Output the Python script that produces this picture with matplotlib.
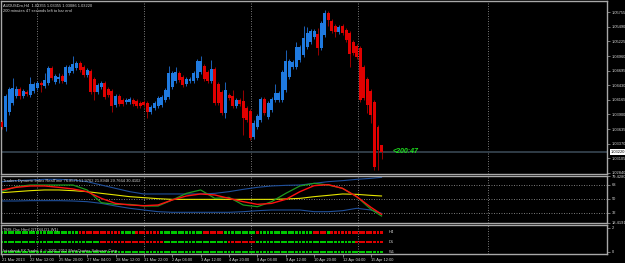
import numpy as np
import matplotlib
matplotlib.use('Agg')
import matplotlib.pyplot as plt
from matplotlib.transforms import blended_transform_factory

# AUDUSDm H4 bars, oldest first
opens = [1.0376, 1.0367, 1.0395, 1.0411, 1.0424, 1.0436, 1.0424, 1.0431, 1.0425, 1.0433,
         1.0438, 1.0447, 1.0442, 1.0447, 1.0474, 1.0449, 1.0454, 1.0460, 1.0449, 1.0465,
         1.0469, 1.0474, 1.0483, 1.0476, 1.0462, 1.0469, 1.0454, 1.0431, 1.0440, 1.0447,
         1.0436, 1.0433, 1.0407, 1.0424, 1.0416, 1.0413, 1.0413, 1.0416, 1.0414, 1.0411,
         1.0413, 1.0411, 1.0395, 1.0402, 1.0405, 1.0407, 1.0416, 1.0422, 1.0440, 1.0451,
         1.0465, 1.0458, 1.0445, 1.0451, 1.0451, 1.0456, 1.0467, 1.0478, 1.0467, 1.0451,
         1.0473, 1.0445, 1.0431, 1.0393, 1.0425, 1.0424, 1.0405, 1.0416, 1.0414, 1.0402,
         1.0396, 1.0349, 1.0367, 1.0380, 1.0418, 1.0385, 1.0398, 1.0416, 1.0416, 1.0416,
         1.0434, 1.0458, 1.0476, 1.0476, 1.0489, 1.0498, 1.0513, 1.0522, 1.0531, 1.0536,
         1.0511, 1.0534, 1.0574, 1.0560, 1.0551, 1.0540, 1.0551, 1.0543, 1.0538, 1.0522,
         1.0514, 1.0511, 1.0476, 1.0454, 1.0433, 1.0413, 1.0367, 1.03355]
highs = [1.0380, 1.0427, 1.0440, 1.0456, 1.0442, 1.0440, 1.0436, 1.0434, 1.0458, 1.0449,
         1.0451, 1.0451, 1.0465, 1.0478, 1.0478, 1.0463, 1.0465, 1.0463, 1.0480, 1.0480,
         1.0496, 1.0487, 1.0487, 1.0480, 1.0474, 1.0473, 1.0458, 1.0447, 1.0451, 1.0451,
         1.0440, 1.0436, 1.0427, 1.0427, 1.0420, 1.0420, 1.0422, 1.0420, 1.0418, 1.0414,
         1.0416, 1.0414, 1.0407, 1.0414, 1.0424, 1.0425, 1.0438, 1.0478, 1.0469, 1.0476,
         1.0469, 1.0462, 1.0458, 1.0458, 1.0469, 1.0491, 1.0496, 1.0482, 1.0471, 1.0489,
         1.0476, 1.0449, 1.0434, 1.0449, 1.0429, 1.0434, 1.0420, 1.0420, 1.0434, 1.0405,
         1.0400, 1.0380, 1.0391, 1.0422, 1.0422, 1.0414, 1.0422, 1.0445, 1.0433, 1.0471,
         1.0507, 1.0491, 1.0489, 1.0522, 1.0516, 1.0551, 1.0549, 1.0545, 1.0545, 1.0547,
         1.0560, 1.0580, 1.0578, 1.0563, 1.0554, 1.0552, 1.0554, 1.0547, 1.0541, 1.0525,
         1.0518, 1.0514, 1.0480, 1.0458, 1.0436, 1.0416, 1.0371, 1.03355]
lows = [1.0364, 1.0360, 1.0389, 1.0407, 1.0420, 1.0418, 1.0420, 1.0424, 1.0422, 1.0429,
        1.0434, 1.0431, 1.0438, 1.0444, 1.0453, 1.0445, 1.0447, 1.0447, 1.0445, 1.0462,
        1.0465, 1.0471, 1.0467, 1.0458, 1.0458, 1.0427, 1.0416, 1.0427, 1.0436, 1.0418,
        1.0422, 1.0395, 1.0404, 1.0405, 1.0405, 1.0409, 1.0409, 1.0405, 1.0402, 1.0402,
        1.0404, 1.0384, 1.0391, 1.0398, 1.0402, 1.0404, 1.0413, 1.0418, 1.0436, 1.0447,
        1.0449, 1.0440, 1.0442, 1.0447, 1.0447, 1.0453, 1.0463, 1.0451, 1.0447, 1.0447,
        1.0407, 1.0407, 1.0389, 1.0384, 1.0416, 1.0402, 1.0402, 1.0405, 1.0353, 1.0376,
        1.0344, 1.0346, 1.0364, 1.0376, 1.0389, 1.0382, 1.0395, 1.0413, 1.0413, 1.0413,
        1.0431, 1.0454, 1.0473, 1.0473, 1.0485, 1.0494, 1.0509, 1.0518, 1.0527, 1.0498,
        1.0507, 1.0531, 1.0551, 1.0538, 1.0531, 1.0536, 1.0534, 1.0522, 1.0476, 1.0498,
        1.0491, 1.0413, 1.0416, 1.0393, 1.0374, 1.0289, 1.0289, 1.03086]
closes = [1.0367, 1.0424, 1.0436, 1.0438, 1.0436, 1.0424, 1.0433, 1.0427, 1.0445, 1.0445,
          1.0447, 1.0444, 1.0453, 1.0474, 1.0456, 1.0460, 1.0458, 1.0451, 1.0476, 1.0476,
          1.0482, 1.0483, 1.0471, 1.0462, 1.0471, 1.0431, 1.0431, 1.0444, 1.0447, 1.0422,
          1.0425, 1.0405, 1.0424, 1.0409, 1.0409, 1.0416, 1.0418, 1.0409, 1.0405, 1.0405,
          1.0407, 1.0395, 1.0404, 1.0411, 1.0420, 1.0422, 1.0434, 1.0465, 1.0465, 1.0467,
          1.0453, 1.0444, 1.0454, 1.0454, 1.0465, 1.0487, 1.0487, 1.0454, 1.0451, 1.0473,
          1.0411, 1.0411, 1.0393, 1.0434, 1.0420, 1.0405, 1.0416, 1.0409, 1.0384, 1.0380,
          1.0347, 1.0374, 1.0387, 1.0418, 1.0393, 1.0411, 1.0418, 1.0429, 1.0429, 1.0467,
          1.0487, 1.0487, 1.0485, 1.0513, 1.0513, 1.0529, 1.0538, 1.0541, 1.0541, 1.0511,
          1.0556, 1.0574, 1.0561, 1.0541, 1.0540, 1.0549, 1.0538, 1.0525, 1.0500, 1.0502,
          1.0494, 1.0416, 1.0420, 1.0407, 1.0389, 1.0295, 1.0326, 1.03220]

# Traders Dynamic Index, read every 4th bar (plus the last one)
tdi_bars = [0, 4, 8, 12, 16, 20, 24, 28, 32, 36, 40, 44, 48, 52,
            56, 60, 64, 68, 72, 76, 80, 84, 88, 92, 96, 100, 104, 107]
tdi_rsi = [59.1, 65.6, 67.7, 67.7, 67.7, 67.7, 61.3, 44.8, 42.6, 42.6, 40.5, 40.5, 48.3, 56.9,
           61.3, 50.4, 51.7, 41.8, 39.6, 46.1, 56.9, 66.5, 69.9, 67.7, 63.4, 52.6, 36.2, 27.5]
tdi_signal = [61.3, 64.7, 66.5, 66.5, 64.7, 62.6, 59.1, 50.4, 43.9, 41.8, 40.9, 41.8, 48.3, 53.5,
              56.1, 54.8, 50.4, 46.1, 42.6, 43.9, 49.1, 59.1, 66.9, 68.2, 63.4, 52.6, 38.8, 29.7]
tdi_base = [57.8, 59.1, 60.4, 61.3, 61.3, 60.4, 59.1, 56.9, 54.8, 52.6, 51.3, 50.0, 49.1, 49.1,
            49.1, 49.1, 49.1, 49.1, 49.1, 49.1, 49.6, 50.4, 52.6, 54.3, 56.1, 55.6, 54.3, 53.5]
tdi_upper = [72.1, 73.4, 74.2, 75.1, 75.1, 74.2, 72.1, 67.7, 63.4, 59.1, 56.1, 56.1, 56.1, 56.1,
             56.1, 56.9, 59.1, 62.1, 64.7, 66.5, 67.3, 67.7, 69.9, 72.1, 73.4, 75.1, 76.4, 77.7]
tdi_lower = [47.0, 47.0, 47.4, 47.4, 47.4, 47.0, 46.1, 43.9, 40.5, 37.5, 35.3, 33.1, 32.3, 32.3,
             32.3, 32.3, 32.3, 33.1, 34.4, 35.3, 35.3, 35.3, 33.1, 33.1, 34.4, 37.5, 35.3, 31.0]
tdi_levels = [68, 50, 32]
tdi_min, tdi_max = 18.4191, 79.4280

# TMS oscillator state per bar (G = up, R = down)
tms_rows = ['H4', 'D1', 'W1']
tms_h4 = ('GGGGGGGGGGGGGGGGGGGGGG' 'RRRRRRRRRRRR' 'GGGG' 'RRRRRRR' 'GGGGGGGGGGGG' 'RRRRRR'
          'GGGGGGGGG' 'R' 'GGGGGGGGGGGGGGG' 'RRRR' 'G' 'RRRRRRRRRRRRRRR')
tms_d1 = ('GGGGGGGGGGGGGGGGGGGGGGGGGGGG' 'RRRRRRRRRRRRRRRRRR' 'GGGGGGGGGGGGGGGGGG'
          'RRRRRRRR' 'GGGGGGGGGGGGGGGGGGGGGGGGGGGG' 'RRRRRRRR')
tms_w1 = 'G' * 108

price_ticks = [1.05755, 1.05490, 1.05225, 1.04960, 1.04695, 1.04430, 1.04165,
               1.03900, 1.03635, 1.03370, 1.03105, 1.02840]
time_labels = ['21 Mar 2013', '22 Mar 12:00', '25 Mar 20:00', '27 Mar 04:00', '28 Mar 12:00',
               '31 Mar 22:00', '2 Apr 04:00', '3 Apr 12:00', '4 Apr 20:00', '8 Apr 04:00',
               '9 Apr 12:00', '10 Apr 20:00', '12 Apr 04:00', '15 Apr 12:00']
label_every = 8
grid_bars = [9.9, 40.0, 70.2, 100.4, 136.9]

# ---------------------------------------------------------------------------
W, H = 625, 263
BG = '#000000'
TXT = '#d6d6d6'
GRID = '#8a8a8a'
FS = 2.9
plt.rcParams['font.family'] = ['Liberation Sans', 'DejaVu Sans']

fig = plt.figure(figsize=(W / 100, H / 100), dpi=100, facecolor=BG)


def rect(x0, y0, x1, y1):
    return [x0 / W, 1 - y1 / H, (x1 - x0) / W, (y1 - y0) / H]


ax = fig.add_axes(rect(1, 1, 607, 174))
ax_tdi = fig.add_axes(rect(1, 176, 607, 223), sharex=ax)
ax_tms = fig.add_axes(rect(1, 225, 607, 254), sharex=ax)

for a in (ax, ax_tdi, ax_tms):
    a.set_facecolor(BG)
    for s in a.spines.values():
        s.set_color('#a8a8a8')
        s.set_linewidth(1.0)
    a.yaxis.tick_right()
    a.tick_params(axis='y', direction='out', length=2, width=0.5, color='#a8a8a8',
                  pad=1.2, labelsize=FS, labelcolor=TXT)
    a.tick_params(axis='x', bottom=False, labelbottom=False)
    for g in grid_bars:
        a.axvline(g, color=GRID, lw=0.6, ls=(0, (1.2, 1.8)), zorder=0)

# --- price panel
o = np.array(opens)
h = np.array(highs)
l = np.array(lows)
c = np.array(closes)
bars = np.arange(len(c))
up = c >= o
dn = ~up
body = np.maximum(np.abs(c - o), 0.00007)
ax.vlines(bars[up], l[up], h[up], color='#1c62b8', lw=0.7, zorder=2)
ax.vlines(bars[dn], l[dn], h[dn], color='#9a0000', lw=0.7, zorder=2)
ax.bar(bars[up], body[up], bottom=o[up], width=0.84, color='#1f7ae0', lw=0, zorder=3)
ax.bar(bars[dn], body[dn], bottom=c[dn], width=0.84, color='#e00000', lw=0, zorder=3)
ax.axhline(c[-1], color='#33414c', lw=1.3, zorder=1)

ax.set_xlim(-0.28, 170.56)
ax.set_ylim(1.0282, 1.0596)
ax.set_yticks(price_ticks)
ax.set_yticklabels([f'{p:.5f}' for p in price_ticks])
right_tr = blended_transform_factory(ax.transAxes, ax.transData)
ax.text(1.006, c[-1], f'{c[-1]:.5f}', transform=right_tr, va='center', ha='left',
        fontsize=FS, color='black', clip_on=False, zorder=5,
        bbox=dict(boxstyle='square,pad=0.15', fc='white', ec='none'))
ax.text(110, c[-1], '<200:47', color='#1ee01e', fontsize=5, style='italic',
        fontweight='bold', va='center', ha='left')
ax.text(0.004, 0.985, 'AUDUSDm,H4  1.03355 1.03355 1.03086 1.03220',
        transform=ax.transAxes, color=TXT, fontsize=FS, va='top', ha='left')
ax.text(0.004, 0.955, '200 minutes 47 seconds left to bar end',
        transform=ax.transAxes, color=TXT, fontsize=FS, va='top', ha='left')

# --- TDI panel
ax_tdi.plot(tdi_bars, tdi_upper, color='#1f4f9a', lw=0.8)
ax_tdi.plot(tdi_bars, tdi_lower, color='#1f4f9a', lw=0.8)
ax_tdi.plot(tdi_bars, tdi_base, color='#e6e600', lw=0.8)
ax_tdi.plot(tdi_bars, tdi_rsi, color='#1e9a1e', lw=0.9)
ax_tdi.plot(tdi_bars, tdi_signal, color='#ff1010', lw=1.0)
for lv in tdi_levels:
    ax_tdi.axhline(lv, color=GRID, lw=0.6, ls=(0, (1.2, 1.8)), zorder=0)
ax_tdi.set_ylim(tdi_min, tdi_max)
ax_tdi.set_yticks([tdi_max] + tdi_levels + [tdi_min])
ax_tdi.set_yticklabels([f'{tdi_max:.4f}'] + [str(v) for v in tdi_levels] + [f'{tdi_min:.4f}'])
ax_tdi.text(0.004, 0.93, 'Traders Dynamic Index RealTime 76.8575 51.9762 21.8948 29.7664 30.4102',
            transform=ax_tdi.transAxes, color=TXT, fontsize=FS, va='top', ha='left')

# --- TMS oscillator panel
row_y = {'H4': 1.65, 'D1': 0.83, 'W1': 0.0}
palette = {'G': '#00c800', 'R': '#e00000'}
for name, states in zip(tms_rows, [tms_h4, tms_d1, tms_w1]):
    cols = [palette[s] for s in states]
    ax_tms.scatter(np.arange(len(states)), [row_y[name]] * len(states), c=cols,
                   marker='s', s=4.2, lw=0, zorder=2)
    ax_tms.text(109, row_y[name], name, color=TXT, fontsize=FS, va='center', ha='left')
ax_tms.set_ylim(-0.17, 2.25)
ax_tms.set_yticks([2, 0])
ax_tms.set_yticklabels(['2', '0'])
ax_tms.text(0.004, 0.9, 'TMS-Osc Html 2(TDI4-D1-W1)', transform=ax_tms.transAxes,
            color=TXT, fontsize=FS, va='top', ha='left')
ax_tms.text(0.004, 0.02, 'Interbank FX Trader 4, \u00a9 2001-2012 MetaQuotes Software Corp.',
            transform=ax_tms.transAxes, color=TXT, fontsize=FS, va='bottom', ha='left', zorder=3)

tick_pos = [i * label_every for i in range(len(time_labels))]
ax_tms.set_xticks(tick_pos)
ax_tms.set_xticklabels(time_labels)
ax_tms.tick_params(axis='x', bottom=True, labelbottom=True, direction='out', length=2,
                   width=0.5, color='#a8a8a8', pad=0.8, labelsize=FS, labelcolor=TXT)
for lab in ax_tms.get_xticklabels():
    lab.set_ha('left')

fig.savefig('out.png', dpi=100, facecolor=BG)
